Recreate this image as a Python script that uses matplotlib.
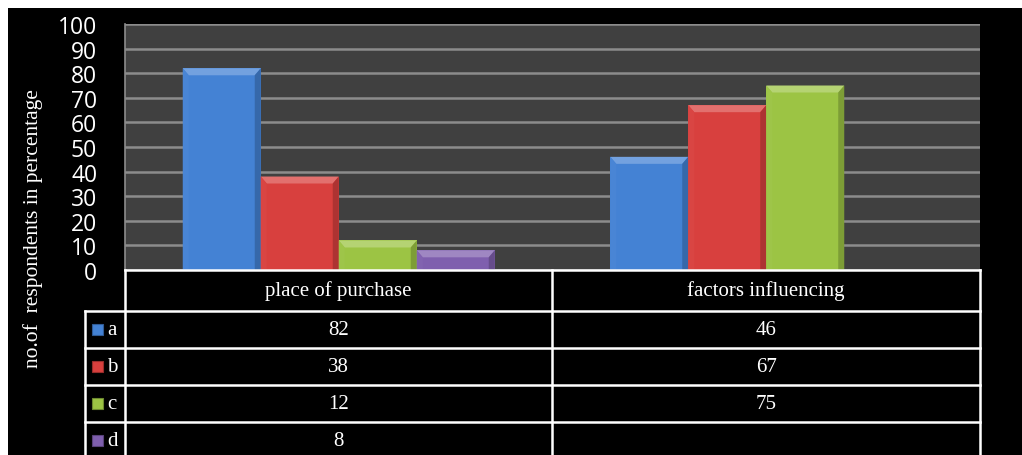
import numpy as np
import matplotlib.pyplot as plt
from matplotlib.patches import Polygon, Rectangle
import matplotlib.colors as mcolors

categories = ["place of purchase", "factors influencing"]
series = ["a", "b", "c", "d"]
values_a = [82, 46]
values_b = [38, 67]
values_c = [12, 75]
values_d = [8, None]
colors = ["#4482d4", "#d8403e", "#9cc444", "#7f5fae"]

all_values = [values_a, values_b, values_c, values_d]

W, H = 1022, 456
fig = plt.figure(figsize=(W / 100, H / 100), dpi=100, facecolor="white")

# black canvas with a thin white margin on top and left
fig.patches.append(Rectangle((8 / W, 0), 1, 1 - 9 / H, transform=fig.transFigure,
                             facecolor="black", edgecolor="none", zorder=-10))

left_px, right_px, top_px, zero_px = 125, 980, 25, 271
ax = fig.add_axes([left_px / W, 1 - zero_px / H, (right_px - left_px) / W,
                   (zero_px - top_px) / H])
ax.set_facecolor("#404040")
ax.set_xlim(-0.5, 1.5)
ax.set_ylim(0, 100)
ax.set_yticks(np.arange(0, 101, 10))
ax.set_xticks([])
ax.tick_params(axis="y", length=0, pad=20, labelsize=16.5, labelcolor="white")
for lab in ax.get_yticklabels():
    lab.set_fontfamily("Open Sans")
ax.yaxis.grid(True, color="#8c8c8c", linewidth=1.8)
ax.set_axisbelow(True)
for s in ["top", "right", "bottom"]:
    ax.spines[s].set_visible(False)
ax.spines["left"].set_color("#8c8c8c")
ax.spines["left"].set_linewidth(1.2)

px_x = (right_px - left_px) / 2.0   # pixels per category unit
px_y = (zero_px - top_px) / 100.0   # pixels per value unit
bar_w = 78 / px_x
sx = 6 / px_x
ty = 7 / px_y

x = np.arange(len(categories))
for i, (vals, col) in enumerate(zip(all_values, colors)):
    for j, v in enumerate(vals):
        if v is None:
            continue
        xc = x[j] + (i - 1.5) * bar_w
        bar = ax.bar(xc, v, bar_w, color=col, edgecolor="none", zorder=3)[0]
        x0 = bar.get_x()
        x1 = x0 + bar.get_width()
        h = bar.get_height()
        rgb = np.array(mcolors.to_rgb(col))
        light = np.clip(rgb + (1 - rgb) * 0.25, 0, 1)
        dark = rgb * 0.8
        t = min(ty, h * 0.45)
        ax.add_patch(Polygon([(x0, h), (x1, h), (x1 - sx, h - t), (x0 + sx, h - t)],
                             closed=True, facecolor=light, edgecolor="none", zorder=4))
        ax.add_patch(Polygon([(x1, 0), (x1, h), (x1 - sx, h - t), (x1 - sx, 0)],
                             closed=True, facecolor=dark, edgecolor="none", zorder=4))
        ax.add_patch(Polygon([(x0, 0), (x0, h), (x0 + sx, h - t), (x0 + sx, 0)],
                             closed=True, facecolor=rgb * 0.9 + 0.1 * light,
                             edgecolor="none", zorder=4))

fig.text(33 / W, 1 - 229 / H, "no.of  respondents in percentage", rotation=90,
         ha="center", va="center", color="white", fontsize=15.5,
         fontfamily="Liberation Serif")

# data table under the plot
key_left = 85
tax = fig.add_axes([key_left / W, 0, (right_px - key_left) / W, (H - zero_px) / H])
tax.set_xlim(key_left, right_px)
tax.set_ylim(H, zero_px)
tax.axis("off")
tax.patch.set_alpha(0)

head_h = 41
row_h = 37
col_mid = (left_px + right_px) / 2
line_kw = dict(color="white", linewidth=1.8, clip_on=False)

row_tops = [zero_px + head_h + k * row_h for k in range(len(series))]
tax.plot([left_px, right_px], [zero_px, zero_px], **line_kw)
tax.plot([left_px, left_px], [zero_px, H + 5], **line_kw)
tax.plot([col_mid, col_mid], [zero_px, H + 5], **line_kw)
tax.plot([right_px, right_px], [zero_px, H + 5], **line_kw)
tax.plot([key_left, key_left], [row_tops[0], H + 5], **line_kw)
for yt in row_tops:
    tax.plot([key_left, right_px], [yt, yt], **line_kw)

txt_kw = dict(color="white", fontsize=15, fontfamily="Liberation Serif",
              ha="center", va="center")
for j, cat in enumerate(categories):
    cx = left_px + (j + 0.5) * (right_px - left_px) / len(categories)
    tax.text(cx, zero_px + head_h / 2, cat, **txt_kw)
    for i, vals in enumerate(all_values):
        if vals[j] is not None:
            tax.text(cx, row_tops[i] + row_h / 2, str(vals[j]), **txt_kw)

for i, (name, col) in enumerate(zip(series, colors)):
    cy = row_tops[i] + row_h / 2
    rgb = np.array(mcolors.to_rgb(col))
    tax.add_patch(Rectangle((92, cy - 6), 11, 11, facecolor=rgb, edgecolor=rgb * 0.7,
                            linewidth=0.8))
    tax.text(107, cy, name, color="white", fontsize=15,
             fontfamily="Liberation Serif", ha="left", va="center")

fig.savefig("out.png", dpi=100, facecolor=fig.get_facecolor())
